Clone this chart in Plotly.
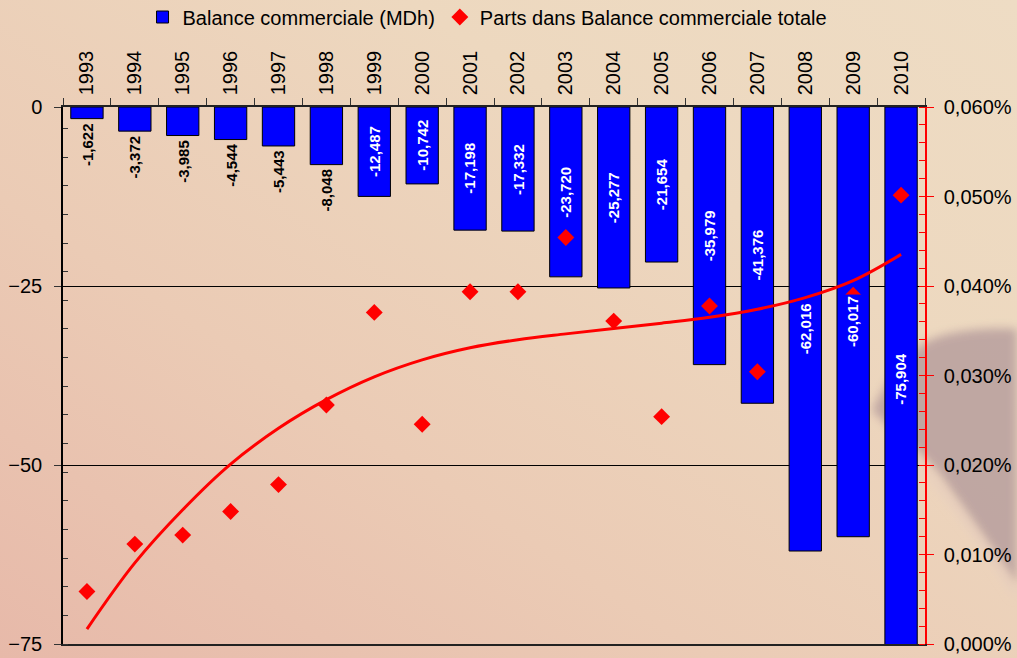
import base64
import plotly.graph_objects as go

# Trade balance (billions of dirhams) and its share of the total trade balance
years = ["1993", "1994", "1995", "1996", "1997", "1998", "1999", "2000", "2001",
         "2002", "2003", "2004", "2005", "2006", "2007", "2008", "2009", "2010"]
balance = [-1.622, -3.372, -3.985, -4.544, -5.443, -8.048, -12.487, -10.742, -17.198,
           -17.332, -23.720, -25.277, -21.654, -35.979, -41.376, -62.016, -60.017, -75.904]
# share, in percent
share_pct = [0.00587, 0.01116, 0.01217, 0.01480, 0.01781, 0.02671, 0.03705, 0.02455, 0.03935,
             0.03935, 0.04542, 0.03608, 0.02540, 0.03776, 0.03042, None, 0.03898, 0.05015]
# trend curve of the share, in percent
trend_pct = [0.00167, 0.00906, 0.01500, 0.02010, 0.02410, 0.02730, 0.02985, 0.03175, 0.03310,
             0.03400, 0.03465, 0.03525, 0.03585, 0.03650, 0.03740, 0.03870, 0.04060, 0.04353]

W, H = 1017, 658
ML, MR, MT, MB = 63, 92, 107, 14
PW, PH = W - ML - MR, H - MT - MB
FONT = "Liberation Sans, Arial, sans-serif"

# warm paper background with a soft dark silhouette on the right
svg = f"""<svg xmlns='http://www.w3.org/2000/svg' width='{W}' height='{H}' viewBox='0 0 {W} {H}' preserveAspectRatio='none'>
<defs>
<linearGradient id='g' x1='0' y1='1' x2='1' y2='0'>
<stop offset='0' stop-color='#E7B9A9'/>
<stop offset='0.35' stop-color='#EBCBB5'/>
<stop offset='0.7' stop-color='#EDD8BF'/>
<stop offset='1' stop-color='#EEDCC4'/>
</linearGradient>
<filter id='b' x='-30%' y='-30%' width='160%' height='160%'><feGaussianBlur stdDeviation='5'/></filter>
</defs>
<rect width='{W}' height='{H}' fill='url(#g)'/>
<path d='M 872 410 C 885 385 905 352 930 340 C 950 331 985 327 1017 329 L 1017 585 C 1000 560 968 515 940 475 C 915 445 888 428 872 410 Z' fill='#B89F9E' filter='url(#b)' opacity='0.85'/>
<path d='M 905 446 C 940 485 975 530 1017 596' stroke='#E6CDBF' stroke-width='5' fill='none' filter='url(#b)'/>
</svg>"""
bg_uri = "data:image/svg+xml;base64," + base64.b64encode(svg.encode()).decode()


def fmt(v):
    return f"{v:.3f}".replace(".", ",")


fig = go.Figure()

fig.add_trace(go.Bar(
    x=years, y=balance, name="Balance commerciale (MDh)",
    marker=dict(color="#0000FF", line=dict(color="#000000", width=1)),
    yaxis="y",
))

fig.add_trace(go.Scatter(
    x=years, y=trend_pct, mode="lines", showlegend=False,
    line=dict(color="#FF0000", width=3, shape="spline", smoothing=1.0),
    yaxis="y2", hoverinfo="skip",
))

fig.add_trace(go.Scatter(
    x=years, y=share_pct, mode="markers", name="Parts dans Balance commerciale totale",
    marker=dict(symbol="diamond", color="#FF0000", size=13, line=dict(width=0)),
    yaxis="y2",
))

# value labels: short bars get black text below, long bars white text centred inside
annotations = []
for i, v in enumerate(balance):
    if v > -10:
        annotations.append(dict(
            x=i, y=v, xref="x", yref="y", text=fmt(v), textangle=-90,
            showarrow=False, xanchor="center", yanchor="top", yshift=-2,
            font=dict(family=FONT, size=15, color="#000000", weight="bold"),
        ))
    else:
        annotations.append(dict(
            x=i, y=v / 2, xref="x", yref="y", text=fmt(v), textangle=-90,
            showarrow=False, xanchor="center", yanchor="middle",
            bgcolor="#0000FF", borderpad=1,
            font=dict(family=FONT, size=15, color="#FFFFFF", weight="bold"),
        ))

fig.update_layout(
    width=W, height=H,
    margin=dict(l=ML, r=MR, t=MT, b=MB, autoexpand=False),
    paper_bgcolor="#EBD2BC",
    plot_bgcolor="rgba(0,0,0,0)",
    separators=",.",
    font=dict(family=FONT, size=20, color="#000000"),
    bargap=0.325,
    showlegend=True,
    legend=dict(
        orientation="h", x=0.4925, xanchor="center", y=(H - MB - 17) / PH, yanchor="middle",
        bgcolor="rgba(0,0,0,0)", font=dict(family=FONT, size=20),
        itemwidth=30, tracegroupgap=0,
    ),
    xaxis=dict(
        type="category", side="top", tickangle=-90, range=[-0.5, len(years) - 0.5],
        autorange=False, automargin=False,
        showline=True, linecolor="#222222", linewidth=1.5, mirror=True,
        ticks="outside", ticklen=7, tickcolor="#333333", tickson="boundaries",
        ticklabelstandoff=6,
        showgrid=False, zeroline=False,
        tickfont=dict(family=FONT, size=20),
    ),
    yaxis=dict(
        range=[-75, 0], autorange=False, automargin=False, tickvals=[0, -25, -50, -75],
        showline=True, linecolor="#000000", linewidth=1.5,
        ticks="outside", ticklen=7, tickcolor="#333333",
        minor=dict(tick0=-75, dtick=4, ticks="inside", ticklen=5, tickcolor="#333333", showgrid=False),
        showgrid=True, gridcolor="#000000", gridwidth=1,
        zeroline=False, ticklabelstandoff=8,
        tickfont=dict(family=FONT, size=20),
    ),
    yaxis2=dict(
        overlaying="y", side="right", range=[0, 0.06], autorange=False, automargin=False,
        dtick=0.01, tick0=0,
        tickformat=".3f", ticksuffix="%",
        showline=True, linecolor="#FF0000", linewidth=1.5,
        ticks="outside", ticklen=7, tickcolor="#FF0000",
        minor=dict(dtick=0.002, ticks="inside", ticklen=6, tickcolor="#FF0000", showgrid=False),
        showgrid=False, zeroline=False, ticklabelstandoff=6,
        tickfont=dict(family=FONT, size=20),
    ),
    annotations=annotations,
    images=[dict(
        source=bg_uri, xref="paper", yref="paper",
        x=-ML / PW, y=1 + MT / PH, sizex=W / PW, sizey=H / PH,
        xanchor="left", yanchor="top", sizing="stretch", layer="below",
    )],
)

fig.write_html("out.html")
